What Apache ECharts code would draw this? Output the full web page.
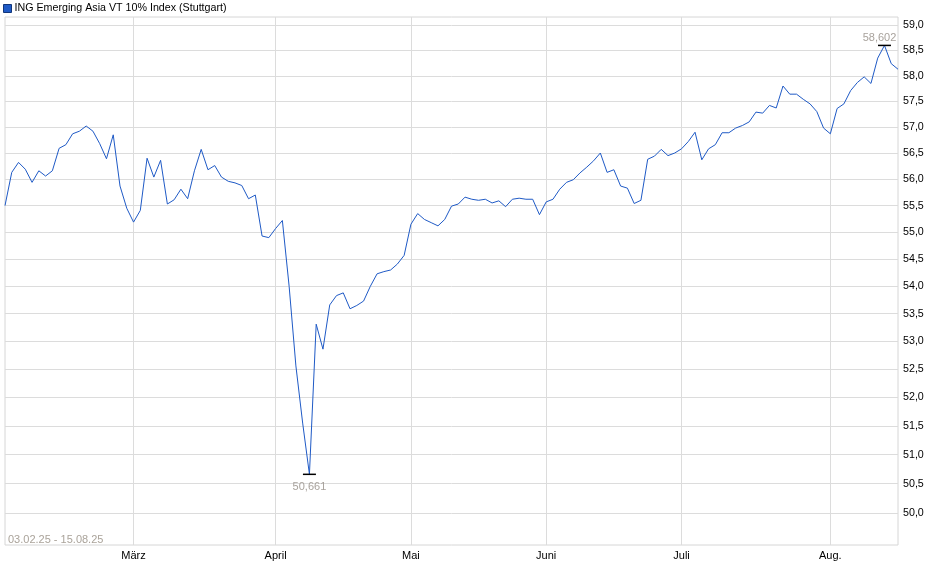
<!DOCTYPE html>
<html>
<head>
<meta charset="utf-8">
<script src="https://cdn.jsdelivr.net/npm/echarts@6/dist/echarts.min.js"></script>
</head>
<body style="margin:0">
<div id="container" style="width:940px;height:579px"></div>
<script>
var seriesName = 'ING Emerging Asia VT 10% Index (Stuttgart)';
var rangeText = '03.02.25 - 15.08.25';
var monthNames = ['Feb.', 'März', 'April', 'Mai', 'Juni', 'Juli', 'Aug.'];

// closing values per trading day, one array per month
var feb = [55.50, 56.13, 56.32, 56.19, 55.94, 56.16, 56.06, 56.16, 56.59, 56.66,
           56.87, 56.92, 57.02, 56.92, 56.68, 56.39, 56.85, 55.87, 55.45];
var mar = [55.19, 55.41, 56.40, 56.04, 56.36, 55.53, 55.61, 55.81, 55.63, 56.16,
           56.57, 56.18, 56.26, 56.04, 55.96, 55.93, 55.88, 55.63, 55.70, 54.93, 54.90];
var apr = [55.07, 55.22, 54.00, 52.56, 51.55, 50.661, 53.31, 52.86, 53.66, 53.83,
           53.88, 53.59, 53.65, 53.73, 54.00, 54.23, 54.27, 54.30, 54.41, 54.57];
var may = [55.15, 55.35, 55.24, 55.18, 55.12, 55.24, 55.49, 55.53, 55.66, 55.62,
           55.60, 55.62, 55.55, 55.59, 55.48, 55.62, 55.64, 55.62, 55.62, 55.33];
var jun = [55.57, 55.62, 55.81, 55.94, 55.99, 56.12, 56.23, 56.35, 56.50, 56.13,
           56.18, 55.87, 55.83, 55.54, 55.60, 56.38, 56.44, 56.57, 56.45, 56.50];
var jul = [56.58, 56.72, 56.90, 56.37, 56.58, 56.66, 56.89, 56.89, 56.98, 57.03,
           57.10, 57.29, 57.27, 57.42, 57.37, 57.80, 57.64, 57.64, 57.54, 57.45, 57.30, 56.98];
var aug = [56.87, 57.36, 57.45, 57.71, 57.87, 57.98, 57.85, 58.35, 58.602, 58.24, 58.13];

var yTicks = [50.0, 50.5, 51.0, 51.5, 52.0, 52.5, 53.0, 53.5, 54.0, 54.5,
              55.0, 55.5, 56.0, 56.5, 57.0, 57.5, 58.0, 58.5, 59.0];

var months = [feb, mar, apr, may, jun, jul, aug];
var categories = [];
var values = [];
var monthStart = {};
months.forEach(function (arr, m) {
    monthStart[categories.length] = true;
    arr.forEach(function (v, k) {
        categories.push(monthNames[m] + ' ' + (k + 1));
        values.push(v);
    });
});

function comma(v, d) {
    return v.toFixed(d).replace('.', ',');
}
function isMonthStart(idx) {
    return idx > 0 && monthStart[idx] === true;
}

var font = '"Liberation Sans", Arial, sans-serif';
var dom = document.getElementById('container');
var myChart = echarts.init(dom);

var option = {
    animation: false,
    backgroundColor: '#fff',
    textStyle: { fontFamily: font },
    legend: {
        left: 0,
        top: 0,
        padding: [3, 3],
        icon: 'rect',
        itemWidth: 8,
        itemHeight: 8,
        itemGap: 5,
        selectedMode: false,
        itemStyle: { borderColor: '#12367a', borderWidth: 1 },
        textStyle: { fontSize: 10.7, color: '#000', fontFamily: font, padding: [0, 0, 0, -2] },
        data: [seriesName]
    },
    grid: {
        left: 5,
        right: 42,
        top: 17,
        bottom: 34,
        show: true,
        borderColor: '#d6d6d6',
        borderWidth: 1,
        outerBoundsMode: 'none'
    },
    graphic: [{
        type: 'text',
        left: 8,
        top: 534,
        style: { text: rangeText, fill: '#aaa39a', font: '11px ' + font }
    }],
    xAxis: {
        type: 'category',
        boundaryGap: false,
        data: categories,
        axisLine: { show: false },
        axisTick: { show: false },
        axisLabel: {
            interval: isMonthStart,
            formatter: function (v) { return v.split(' ')[0]; },
            color: '#000',
            fontSize: 11,
            margin: 5
        },
        splitLine: {
            show: true,
            interval: isMonthStart,
            lineStyle: { color: '#dcdcdc', width: 1 }
        }
    },
    yAxis: {
        type: 'log',
        logBase: 10,
        position: 'right',
        min: 49.46,
        max: 59.17,
        axisLine: { show: false },
        axisTick: { show: false, customValues: yTicks },
        axisLabel: {
            customValues: yTicks,
            formatter: function (v) { return comma(v, 1); },
            color: '#000',
            fontSize: 10.7,
            margin: 5
        },
        splitLine: { show: true, lineStyle: { color: '#dcdcdc', width: 1 } }
    },
    series: [{
        name: seriesName,
        type: 'line',
        data: values,
        showSymbol: false,
        symbol: 'none',
        color: '#1f5ac6',
        lineStyle: { color: '#1f5ac6', width: 1 },
        markPoint: {
            symbol: 'rect',
            symbolSize: [13, 1.5],
            itemStyle: { color: '#000' },
            label: {
                color: '#a8a29c',
                fontSize: 11,
                formatter: function (p) { return comma(p.value, 3); }
            },
            data: [
                { type: 'max', label: { position: 'top', distance: 1, offset: [-5, 0] } },
                { type: 'min', label: { position: 'bottom', distance: 6 } }
            ]
        }
    }]
};

myChart.setOption(option);
</script>
</body>
</html>
